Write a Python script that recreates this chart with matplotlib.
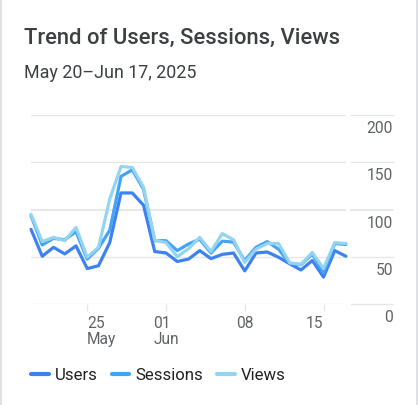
import matplotlib
matplotlib.use("Agg")
import matplotlib.pyplot as plt
import numpy as np
import pandas as pd
from matplotlib.lines import Line2D
from matplotlib.transforms import ScaledTranslation

plt.rcParams['font.family'] = ['Roboto', 'DejaVu Sans']

dates = pd.date_range("2025-05-20", "2025-06-17", freq="D")
users = [79, 50.5, 60, 53, 61.5, 37.5, 40.5, 65, 117.5, 117.5, 104.5, 55.5, 54, 45, 47.5,
         56.5, 48, 52.5, 54, 35, 54, 55, 49.5, 42.5, 36, 46, 28.5, 56.5, 50.5]
sessions = [93.5, 62.5, 69.5, 68, 76.5, 47.5, 59, 78, 135, 142, 121.5, 67, 67, 56.5, 63.5,
            68.5, 54, 66.5, 65.5, 46, 60, 66, 58, 43, 41.5, 53, 33, 64, 63]
views = [95, 66, 70.5, 67, 81, 49.5, 60, 111, 145.5, 144.5, 123.5, 67.5, 65, 50, 58.5,
         70.5, 55.5, 74.5, 68, 44, 58, 64, 64, 43.5, 42, 54.5, 37.5, 65, 64]
series_names = ["Users", "Sessions", "Views"]
colors = ["#3D82F0", "#45A3F3", "#93D5F1"]
y_ticks = [0, 50, 100, 150, 200]
x_tick_dates = ["2025-05-25", "2025-06-01", "2025-06-08", "2025-06-15"]
x_tick_labels = ["25\nMay", "01\nJun", "08", "15"]
title = "Trend of Users, Sessions, Views"
subtitle = "May 20\u2013Jun 17, 2025"

W, H = 418, 406
fig = plt.figure(figsize=(W / 100, H / 100), dpi=100)
fig.patch.set_facecolor("white")

left, right, top, bottom = 31, 346, 116, 305
ax = fig.add_axes([left / W, 1 - bottom / H, (right - left) / W, (bottom - top) / H])

x = np.arange(len(dates))
for vals, name, c in zip([users, sessions, views], series_names, colors):
    ax.plot(x, vals, color=c, lw=2.3, label=name, solid_joinstyle="round",
            solid_capstyle="round", clip_on=False)

ax.set_xlim(0, len(dates) - 1)
ax.set_ylim(0, 200)
for s in ax.spines.values():
    s.set_visible(False)

ax.set_yticks(y_ticks)
ax.set_yticklabels([])
ax.tick_params(axis="y", length=0)
grid_color = "#e6e6e6"
for v in y_ticks:
    lw = 1.3 if v == 100 else 1.0
    ax.axhline(v, color=grid_color, lw=lw, zorder=0)
    ax.plot([(351 - left) / (right - left), (393 - left) / (right - left)], [v, v],
            transform=ax.get_yaxis_transform(), color=grid_color, lw=lw, clip_on=False)
    ax.text((393 - left) / (right - left), v, str(v), transform=ax.get_yaxis_transform()
            + ScaledTranslation(0, -5 / 100, fig.dpi_scale_trans),
            ha="right", va="top", fontsize=11.2, color="#5f6368")

tick_idx = [list(dates).index(pd.Timestamp(d)) for d in x_tick_dates]
ax.set_xticks(tick_idx)
ax.set_xticklabels(x_tick_labels, fontsize=11.2, color="#5f6368", linespacing=1.1)
ax.tick_params(axis="x", length=5, width=1, color=grid_color, pad=3)
for lab, ha in zip(ax.get_xticklabels(), ["left", "center", "center", "right"]):
    lab.set_ha(ha)
    lab.set_multialignment("left")

fig.text(24 / W, 1 - 44 / H, title, fontsize=15.8, fontweight="medium", color="#3c4043",
         ha="left", va="baseline")
fig.text(24 / W, 1 - 78.5 / H, subtitle, fontsize=12.9, color="#3c4043",
         ha="left", va="baseline")

handles = [Line2D([0], [0], color=c, lw=3, solid_capstyle="round") for c in colors]
fig.legend(handles, series_names, loc="center left", bbox_to_anchor=(31 / W, 1 - 376 / H),
           ncol=3, frameon=False, fontsize=12.1, handlelength=1.05, handletextpad=0.35,
           columnspacing=0.85, borderpad=0, borderaxespad=0, labelcolor="#202124")

for xb in [1.2, 416.5]:
    fig.add_artist(Line2D([xb / W, xb / W], [0, 1], color="#dadce0", lw=1.2))

fig.savefig("out.png", dpi=100, facecolor="white")
